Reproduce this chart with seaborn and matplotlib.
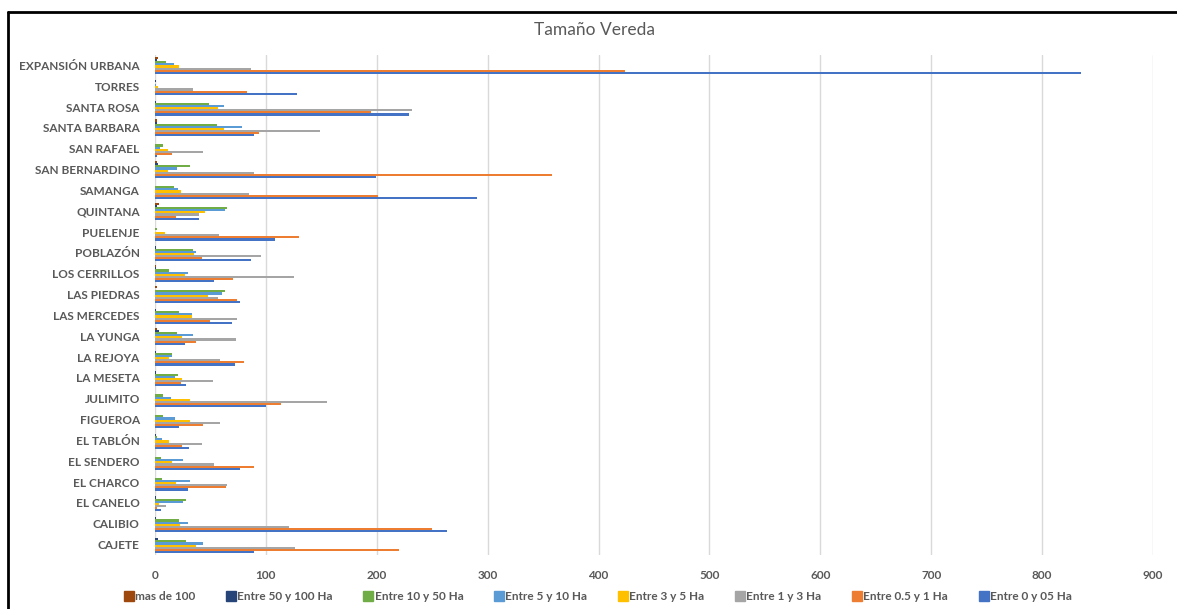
import pandas as pd
import numpy as np
import matplotlib
matplotlib.use('Agg')
import matplotlib.pyplot as plt
import seaborn as sns
from matplotlib.lines import Line2D

# --- DATA ---
veredas = ['EXPANSIÓN URBANA', 'TORRES', 'SANTA ROSA', 'SANTA BARBARA', 'SAN RAFAEL',
           'SAN BERNARDINO', 'SAMANGA', 'QUINTANA', 'PUELENJE', 'POBLAZÓN',
           'LOS CERRILLOS', 'LAS PIEDRAS', 'LAS MERCEDES', 'LA YUNGA', 'LA REJOYA',
           'LA MESETA', 'JULIMITO', 'FIGUEROA', 'EL TABLÓN', 'EL SENDERO',
           'EL CHARCO', 'EL CANELO', 'CALIBIO', 'CAJETE']

series_names = ['mas de 100', 'Entre 50 y 100 Ha', 'Entre 10 y 50 Ha', 'Entre 5 y 10 Ha',
                'Entre 3 y 5 Ha', 'Entre 1 y 3 Ha', 'Entre 0.5 y 1 Ha', 'Entre 0 y 05 Ha']

mas_100 = [3, 0, 0, 2, 0, 1.5, 0, 3.5, 0, 0, 1, 2, 0, 2, 0, 0, 0, 0, 0, 0, 0, 0, 0, 0]
entre_50_100 = [2, 0.5, 0.5, 2, 0, 3, 0, 1.5, 0, 0.5, 1, 0, 0.5, 4, 0.5, 0.5, 0, 0, 0.5, 0, 0, 0.5, 1, 2.5]
entre_10_50 = [10, 0, 49, 56, 7.5, 32, 17, 65, 2, 34, 13, 63, 22, 20, 15, 21, 7, 7, 1.5, 5, 6.5, 28, 22, 28]
entre_5_10 = [17, 1, 62, 78, 4.5, 20, 21, 63, 0, 37, 30, 60, 33, 34, 15, 18, 14, 18, 6.5, 25, 32, 25, 30, 43]
entre_3_5 = [22, 2.5, 57, 62, 12, 11.5, 23.5, 45, 9, 35, 27, 48, 33, 24, 12.5, 24.5, 32, 32, 12.5, 15.5, 18.5, 3.5, 22.5, 37]
entre_1_3 = [87, 34, 232, 149, 43, 89, 85, 40, 58, 96, 125, 57, 74, 73, 59, 52, 155, 59, 42, 53, 65, 9.5, 121, 126]
entre_05_1 = [424, 83, 195, 94, 15, 358, 201, 19, 130, 42, 70, 74, 50, 37, 80, 23, 114, 43, 24, 89, 64, 2, 250, 220]
entre_0_05 = [835, 128, 229, 89, 1.5, 199, 290, 40, 108, 87, 53, 77, 69, 27, 72, 28, 100, 22, 31, 77, 30, 5.5, 263, 89]

colors = ['#9E480E', '#264478', '#70AD47', '#5B9BD5', '#FFC000', '#A5A5A5', '#ED7D31', '#4472C4']

# --- BUILD LONG TABLE ---
values = [mas_100, entre_50_100, entre_10_50, entre_5_10, entre_3_5, entre_1_3, entre_05_1, entre_0_05]
rows = []
for name, vals in zip(series_names, values):
    for vereda, v in zip(veredas, vals):
        rows.append({'Vereda': vereda, 'Rango': name, 'Predios': v})
df = pd.DataFrame(rows)

# --- PLOT ---
sns.set_style('white')
plt.rcParams['font.family'] = ['Lato', 'DejaVu Sans']
text_color = '#595959'

fig = plt.figure(figsize=(11.77, 6.09), dpi=100)
ax = fig.add_axes([0.1317, 0.0887, 0.8479, 0.8210])

sns.barplot(data=df, y='Vereda', x='Predios', hue='Rango', order=veredas,
            hue_order=series_names, palette=colors, orient='h', width=0.82,
            saturation=1, errorbar=None, legend=False, linewidth=0,
            edgecolor='none', ax=ax)

ax.set_xlim(0, 900)
ax.set_ylim(len(veredas) - 0.5, -0.5)
ax.set_xticks(range(0, 901, 100))
ax.xaxis.grid(True, color='#D9D9D9', linewidth=1)
ax.set_axisbelow(True)
for s in ax.spines.values():
    s.set_visible(False)
ax.set_xlabel('')
ax.set_ylabel('')
ax.tick_params(axis='both', length=0, labelcolor=text_color, labelsize=8.5)
ax.tick_params(axis='x', pad=11)
ax.tick_params(axis='y', pad=11)
for lbl in ax.get_yticklabels() + ax.get_xticklabels():
    lbl.set_fontweight('bold')

fig.text(0.505, 0.951, 'Tamaño Vereda', ha='center', va='center',
         fontsize=12.5, color=text_color)

handles = [Line2D([], [], marker='s', linestyle='', markersize=6.5,
                  markerfacecolor=c, markeredgecolor=c) for c in colors]
leg = fig.legend(handles, series_names, loc='center', bbox_to_anchor=(0.508, 0.021),
                 ncol=8, frameon=False, fontsize=8.5, handletextpad=0.15,
                 columnspacing=2.6, handlelength=0.8)
for t in leg.get_texts():
    t.set_color(text_color)
    t.set_fontweight('bold')

# frame lines (top and left) as in the original screenshot
fig.add_artist(Line2D([8 / 1177, 1], [1 - 12 / 609, 1 - 12 / 609], color='black',
                      linewidth=2, transform=fig.transFigure))
fig.add_artist(Line2D([8 / 1177, 8 / 1177], [0, 1 - 12 / 609], color='black',
                      linewidth=2, transform=fig.transFigure))

fig.savefig('out.png', dpi=100)
